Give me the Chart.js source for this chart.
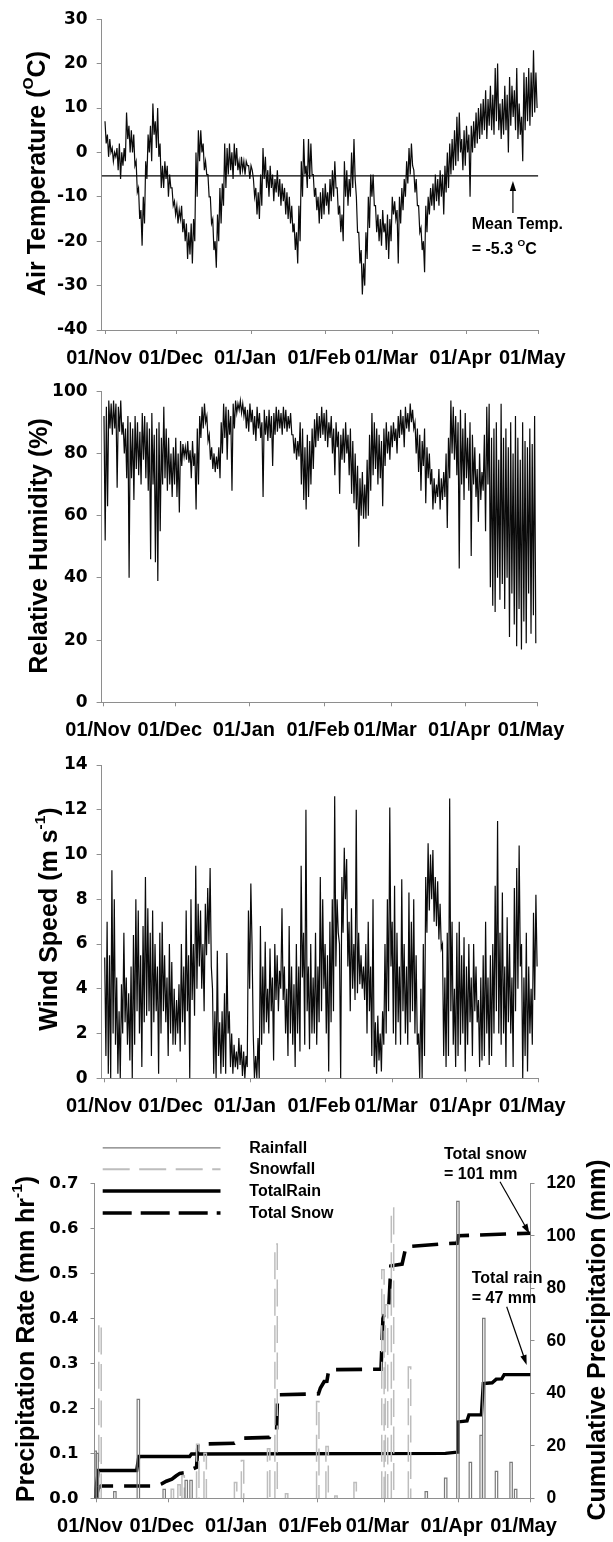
<!DOCTYPE html>
<html><head><meta charset="utf-8">
<script src="https://cdn.jsdelivr.net/npm/chart.js@4/dist/chart.umd.min.js"></script>
<style>
html,body{margin:0;padding:0;background:#fff;}
#wrap{position:relative;width:613px;height:1542px;overflow:hidden;}
canvas{position:absolute;left:0;}
</style></head><body>
<div id="wrap">
<canvas id="c1" width="613" height="372" style="top:0px"></canvas>
<canvas id="c2" width="613" height="370" style="top:372px"></canvas>
<canvas id="c3" width="613" height="378" style="top:742px"></canvas>
<canvas id="c4" width="613" height="422" style="top:1120px"></canvas>
</div>
<script>
// ---------------- DATA ----------------
const MONTH_LABELS = ['01/Nov','01/Dec','01/Jan','01/Feb','01/Mar','01/Apr','01/May'];
const MONTH_DAYS = [0, 30, 61, 92, 120, 151, 181]; // days since 01/Nov

// Air temperature (°C), two readings per day (12 h apart), from 01/Nov
const TEMP = [
7,2, 4,-1, 3,0, 1,-2, 0,-1, 1,-4, 2,-6, 0,-3, 1,-2, 9,3,
6,0, 5,0, 4,-3, -2,-9, -8,-15, -13,-21, -10,-16, -2,-6, 4,0, 6,-2,
11,4, 7,1, 10,-1, 2,-8, -3,-8, -2,-6, -3,-10, -5,-8, -8,-12, -11,-14,
-12,-16, -13,-15, -12,-18, -15,-20, -16,-24, -18,-23, -16,-25, -15,-20, 0,-10, 5,-2,
5,0, 2,-4, -2,-5, -5,-10, -10,-16, -15,-22, -20,-26, -14,-20, -8,-16, -7,-12,
2,-8, 1,-5, 2,-4, 0,-6, 2,-3, 1,-4, -2,-5, -1,-4, -2,-5, -2,-3,
-3,-6, -3,-4, -6,-10, -8,-14, -9,-15, -5,-12, 1,-6, -1,-8, -4,-10, -3,-8,
-5,-11, -6,-9, -4,-10, -6,-12, -7,-11, -8,-14, -9,-15, -10,-16, -12,-18, -16,-22,
-18,-25, -12,-20, -2,-10, 3,-5, -3,-8, 3,-6, 2,-5, -5,-10, -8,-13, -10,-16,
-9,-15, -8,-14, -7,-12, -9,-14, -6,-11, -4,-10, -2,-8, -8,-14, -12,-18, -14,-20,
-2,-10, -4,-12, -6,-10, 0,-8, 3,-6, -10,-18, -18,-25, -22,-32, -25,-30, -18,-24,
-10,-17, -5,-10, -5,-12, -12,-18, -14,-20, -15,-21, -13,-18, -16,-22, -14,-24, -15,-20,
-10,-14, -11,-15, -13,-25, -10,-16, -8,-13, -6,-10, -2,-7, 1,-5, 2,-3, -4,-9,
-6,-12, -12,-18, -17,-22, -20,-27, -12,-18, -10,-14, -8,-12, -7,-13, -5,-11, -6,-12,
-4,-10, -5,-14, -3,-9, 0,-8, 2,-5, 3,-4, 5,-3, 8,-2, 9,0, 3,-4,
5,-3, 6,0, 4,-10, 6,0, 7,1, 9,2, 10,3, 11,4, 12,5, 14,3,
12,6, 15,5, 13,4, 19,7, 20,5, 11,3, 12,4, 15,5, 13,0, 17,6,
15,8, 14,5, 19,3, 11,4, 8,-2, 18,5, 17,7, 19,6, 18,8, 23,9,
18,10
];
const MEAN_TEMP = -5.3;

// Relative humidity (%), two readings per day
const RH = [
92,52, 95,63, 97,88, 96,86, 97,88, 96,69, 95,87, 97,86, 90,80, 88,72,
92,40, 90,72, 88,65, 92,75, 90,73, 87,70, 93,78, 92,72, 90,68, 88,46,
93,70, 86,45, 88,39, 90,55, 85,70, 95,72, 88,68, 85,70, 80,66, 82,70,
85,66, 80,61, 84,76, 83,79, 82,78, 84,77, 81,72, 84,76, 80,62, 88,70,
92,85, 95,88, 96,90, 92,84, 86,78, 82,75, 80,74, 79,75, 82,72, 90,80,
96,85, 95,78, 94,86, 92,68, 96,88, 97,93, 96,94, 97,93, 96,92, 95,88,
94,87, 96,90, 94,86, 92,84, 95,88, 93,85, 90,66, 94,86, 92,84, 94,85,
92,76, 93,86, 95,87, 94,88, 93,86, 95,88, 94,87, 92,88, 93,86, 86,80,
85,78, 84,79, 90,70, 88,65, 82,62, 86,66, 84,70, 88,75, 91,82, 93,84,
92,85, 95,86, 93,84, 94,82, 90,85, 92,80, 88,73, 90,82, 87,67, 86,78,
88,77, 90,80, 86,73, 88,67, 84,64, 80,62, 76,50, 72,60, 74,59, 70,59,
78,60, 86,68, 93,73, 90,75, 88,70, 86,72, 84,63, 88,76, 90,80, 87,78,
89,82, 90,84, 88,80, 92,85, 94,86, 92,82, 95,88, 93,87, 96,90, 94,88,
90,80, 88,74, 86,68, 84,76, 88,64, 82,72, 80,70, 75,62, 72,64, 70,66,
75,62, 72,65, 74,66, 80,56, 85,72, 97,80, 95,78, 92,73, 90,43, 94,70,
88,65, 93,72, 85,68, 90,47, 86,70, 82,66, 75,58, 80,65, 74,68, 86,55,
95,70, 96,37, 85,31, 88,29, 90,40, 78,33, 96,38, 85,30, 88,40, 82,21,
90,35, 80,25, 92,18, 85,30, 78,17, 90,26, 84,19, 82,35, 88,22, 83,28,
92,19
];

// Wind speed (m s-1), two readings per day
const WIND = [
5.4,1.0, 7.0,0.2, 5.5,0.0, 9.3,2.0, 8.0,1.5, 4.5,0.2, 3.0,0.0, 4.2,2.0, 6.5,2.5, 4.5,1.5,
3.8,0.8, 5.0,0.0, 6.4,1.5, 8.0,3.0, 7.5,2.0, 5.5,0.5, 6.8,2.5, 9.0,2.8, 7.6,3.0, 6.5,1.0,
7.5,2.5, 6.0,3.0, 5.0,0.2, 6.5,2.0, 7.0,3.0, 5.5,2.5, 4.5,1.0, 6.0,2.0, 5.2,1.5, 4.0,1.5,
3.5,2.0, 4.2,1.2, 6.0,2.5, 5.0,1.5, 7.5,3.0, 5.5,0.0, 8.0,3.5, 6.0,2.8, 9.5,4.0, 7.8,5.0,
7.5,4.0, 6.0,3.0, 7.8,5.5, 8.5,6.0, 9.4,5.0, 4.0,0.2, 3.0,0.0, 5.7,1.0, 2.5,0.2, 3.0,0.5,
3.8,0.2, 5.6,2.0, 3.0,0.5, 2.0,0.2, 1.5,0.5, 1.2,0.4, 1.8,0.6, 1.5,0.1, 1.2,0.0, 1.0,0.5,
7.5,4.0, 8.7,6.0, 2.0,0.0, 1.0,0.0, 1.8,0.0, 6.8,1.5, 5.0,2.0, 6.1,2.5, 4.0,2.0, 5.8,3.0,
4.5,0.8, 6.0,3.5, 5.5,3.0, 4.8,4.0, 7.6,3.5, 5.0,2.0, 4.0,1.0, 6.8,2.0, 5.0,1.5, 4.2,0.5,
6.0,2.0, 5.0,1.2, 9.5,4.5, 6.5,1.5, 12.0,3.0, 5.0,1.3, 6.0,2.0, 4.5,2.0, 6.5,1.5, 5.0,2.5,
9.0,3.0, 8.0,4.0, 6.0,2.0, 5.5,0.3, 7.0,2.5, 8.0,3.0, 12.6,5.0, 8.0,6.5, 6.0,0.0, 9.0,6.5,
10.3,8.0, 9.8,5.0, 7.0,3.0, 7.6,4.0, 6.0,3.5, 12.0,3.8, 6.5,4.2, 5.5,4.0, 5.0,3.5, 6.0,2.0,
7.0,3.0, 5.0,1.0, 8.0,0.5, 2.5,0.2, 2.8,0.8, 2.0,0.3, 3.0,1.5, 6.0,2.0, 8.0,3.0, 12.1,5.0,
7.0,2.0, 8.6,1.5, 6.5,2.5, 5.0,1.5, 8.9,3.0, 6.0,2.0, 5.0,1.5, 8.3,2.5, 7.0,3.0, 8.0,2.0,
5.5,1.5, 2.0,0.0, 4.0,0.0, 6.0,1.0, 9.0,6.5, 10.5,7.5, 10.0,8.0, 10.2,7.0, 9.0,6.8, 8.8,6.2,
7.8,5.8, 6.0,1.0, 4.5,0.5, 6.5,1.0, 12.5,3.0, 7.0,1.5, 4.0,0.5, 6.5,1.0, 7.0,1.5, 5.5,2.0,
6.3,0.3, 5.0,1.5, 6.0,2.5, 4.5,1.0, 6.0,3.0, 5.0,2.5, 3.5,0.5, 4.5,0.8, 5.5,1.0, 7.0,2.0,
4.5,0.6, 5.5,1.0, 6.0,2.0, 8.6,3.0, 11.5,2.0, 6.5,1.5, 8.3,2.0, 5.0,0.5, 7.2,2.5, 6.0,2.0,
4.5,0.5, 8.5,3.0, 9.4,4.0, 10.4,5.0, 6.0,0.0, 4.5,1.0, 6.5,0.3, 5.0,2.0, 4.0,1.5, 7.4,3.5,
8.2,5.0
];

// Precipitation events: start day (since 01/Nov) and rate (mm hr-1), each lasting one day
const RAIN_DAY  = [-1.2, -0.4, 7.0, 16.8, 27.6, 36.8, 38.8, 137.0, 145.1, 150.2, 155.4, 159.9, 161.0, 166.3, 172.4, 174.3];
const RAIN_RATE = [0.105, 0.10, 0.015, 0.22, 0.02, 0.04, 0.04, 0.015, 0.045, 0.66, 0.08, 0.14, 0.40, 0.06, 0.08, 0.02];
const SNOW_DAY  = [0.8, 31.0, 33.8, 35.5, 41.6, 44.7, 57.4, 60.3, 71.2, 74.3, 78.7, 91.7, 95.6, 99.3, 107.3, 118.9, 120.4, 122.9, 130.0];
const SNOW_RATE = [0.39, 0.02, 0.03, 0.05, 0.12, 0.10, 0.035, 0.084, 0.11, 0.565, 0.01, 0.215, 0.115, 0.005, 0.035, 0.508, 0.43, 0.645, 0.292];
const EVENT_DAYS = 1;

// Cumulative precipitation (mm)
const TOTAL_RAIN_DAY = [-1, 0.65, 16.6, 17.5, 38.7, 39.5, 145.5, 150.4, 150.7, 154.5, 155.3, 160.5, 161.3, 165, 166.7, 169, 170, 181];
const TOTAL_RAIN_MM  = [0, 10.6, 10.6, 15.9, 15.9, 16.9, 17.1, 17.6, 29.1, 29.5, 31.8, 31.8, 43.7, 44.0, 45.4, 45.5, 47.1, 47.1];
const TOTAL_SNOW_DAY = [-0.5, 0.65, 1.6, 24.8, 27, 29, 31.3, 33, 34.6, 37, 38, 41.6, 42.2, 57.4, 60.6, 72, 73.7, 75, 75.4, 92.5, 93.3, 94.9, 96, 96.8, 118.6, 119.4, 120.2, 121.9, 122.7, 124.3, 127.4, 129, 145.5, 150.4, 151, 181];
const TOTAL_SNOW_MM  = [0, 3.8, 4.7, 4.7, 5.5, 6.5, 7.3, 8.5, 9.5, 9.8, 10.5, 11.8, 20.6, 21, 22.9, 23.2, 25.8, 25.9, 39.4, 39.8, 42, 44.5, 44.6, 49, 49.2, 68.5, 71, 73.8, 88.5, 88.8, 89.2, 95.8, 97, 97.2, 100, 101];
const TOTAL_RAIN_LABEL = 47, TOTAL_SNOW_LABEL = 101;

// ---------------- HELPERS ----------------
const FA = '"Liberation Sans", Arial, Helvetica, sans-serif';
const FD = '"DejaVu Sans", "Liberation Sans", sans-serif';
const GRAY = '#8e8e8e';

const halfDaily = arr => arr.map((v, i) => ({x: i * 0.5, y: v}));
const xyPairs = (xs, ys) => xs.map((x, i) => ({x, y: ys[i]}));
function spikes(days, rates) {
  const pts = [];
  days.forEach((d, i) => {
    pts.push({x: d, y: 0}, {x: d, y: rates[i]}, {x: d + EVENT_DAYS, y: rates[i]}, {x: d + EVENT_DAYS, y: 0}, {x: d + EVENT_DAYS + 0.01, y: null});
  });
  return pts;
}

function xAxis(min, max, height, labelOffset) {
  return {
    type: 'linear', position: 'bottom', min, max,
    afterBuildTicks: s => { s.ticks = MONTH_DAYS.map(v => ({value: v})); },
    afterFit: s => { s.height = height; },
    ticks: {
      autoSkip: false, maxRotation: 0, minRotation: 0, padding: 12, labelOffset,
      color: '#000', font: {family: FA, size: 20, weight: 'bold'},
      callback: v => { const k = MONTH_DAYS.indexOf(v); return k >= 0 ? MONTH_LABELS[k] : ''; }
    },
    grid: {drawOnChartArea: false, drawTicks: true, tickLength: 4, color: GRAY, lineWidth: 1},
    border: {display: true, color: GRAY, width: 1}
  };
}
function yAxis(min, max, step, width, opts = {}) {
  return Object.assign({
    type: 'linear', position: 'left', min, max,
    afterFit: s => { s.width = width; },
    ticks: {stepSize: step, padding: opts.pad || 9, color: '#000',
      font: {family: opts.family || FD, size: opts.size || 17, weight: 'bold'},
      callback: opts.cb || (v => String(v))},
    grid: {drawOnChartArea: false, drawTicks: true, tickLength: opts.tick || 5, color: GRAY, lineWidth: 1},
    border: {display: true, color: GRAY, width: 1}
  }, opts.extra || {});
}

function richWidth(ctx, parts, size) {
  let w = 0;
  for (const p of parts) { ctx.font = `bold ${p.sup ? size * 0.62 : size}px ${FA}`; w += ctx.measureText(p.t).width; }
  return w;
}
function drawRich(ctx, parts, x, y, size, align) {
  let cx = align === 'center' ? x - richWidth(ctx, parts, size) / 2 : x;
  ctx.textBaseline = 'middle'; ctx.textAlign = 'left'; ctx.fillStyle = '#000';
  for (const p of parts) {
    const s = p.sup ? size * 0.62 : size;
    ctx.font = `bold ${s}px ${FA}`;
    ctx.fillText(p.t, cx, p.sup ? y - size * 0.36 : y);
    cx += ctx.measureText(p.t).width;
  }
}
function vTitle(ctx, parts, cx, cy, size) {
  ctx.save(); ctx.translate(cx, cy); ctx.rotate(-Math.PI / 2);
  drawRich(ctx, parts, 0, 0, size, 'center'); ctx.restore();
}
function arrow(ctx, x1, y1, x2, y2) {
  ctx.save(); ctx.strokeStyle = '#000'; ctx.fillStyle = '#000'; ctx.lineWidth = 1.2;
  const a = Math.atan2(y2 - y1, x2 - x1), L = 10, W = 3.2;
  ctx.beginPath(); ctx.moveTo(x1, y1); ctx.lineTo(x2 - L * 0.6 * Math.cos(a), y2 - L * 0.6 * Math.sin(a)); ctx.stroke();
  ctx.beginPath(); ctx.moveTo(x2, y2);
  ctx.lineTo(x2 - L * Math.cos(a) + W * Math.sin(a), y2 - L * Math.sin(a) - W * Math.cos(a));
  ctx.lineTo(x2 - L * Math.cos(a) - W * Math.sin(a), y2 - L * Math.sin(a) + W * Math.cos(a));
  ctx.closePath(); ctx.fill(); ctx.restore();
}

const base = {responsive: false, animation: false, events: [], normalized: true,
  plugins: {legend: {display: false}, tooltip: {enabled: false}},
  elements: {point: {radius: 0}, line: {tension: 0}}};
const TITLE = 25;
const TRACE = '#0a0a0a', TRACE_W = 1.2;

// ---------------- PANEL 1: Air temperature ----------------
new Chart(document.getElementById('c1'), {
  type: 'line',
  data: {datasets: [
    {data: halfDaily(TEMP), borderColor: TRACE, borderWidth: TRACE_W},
    {data: [{x: -1.38, y: MEAN_TEMP}, {x: 181, y: MEAN_TEMP}], borderColor: '#000', borderWidth: 1.3}
  ]},
  options: Object.assign({}, base, {
    layout: {autoPadding: false, padding: {top: 15.7, right: 74.7, left: 0, bottom: 0}},
    scales: {x: xAxis(-1.38, 181, 42, -6), y: yAxis(-40, 30, 10, 101.7)}
  }),
  plugins: [{id: 'deco1', afterDraw(c) {
    const ctx = c.ctx;
    vTitle(ctx, [{t: 'Air Temperature ('}, {t: 'O', sup: true}, {t: 'C)'}], 38, 173.5, TITLE);
    const ax = c.scales.x.getPixelForValue(170.4), ay = c.scales.y.getPixelForValue(MEAN_TEMP);
    arrow(ctx, ax, ay + 37, ax, ay + 5);
    drawRich(ctx, [{t: 'Mean Temp.'}], 471.7, 225, 16, 'left');
    drawRich(ctx, [{t: '= ' + MEAN_TEMP.toFixed(1) + ' '}, {t: 'O', sup: true}, {t: 'C'}], 471.7, 249.3, 16, 'left');
  }}]
});

// ---------------- PANEL 2: Relative humidity ----------------
new Chart(document.getElementById('c2'), {
  type: 'line',
  data: {datasets: [{data: halfDaily(RH), borderColor: TRACE, borderWidth: TRACE_W}]},
  options: Object.assign({}, base, {
    layout: {autoPadding: false, padding: {top: 17.3, right: 76, left: 0, bottom: 0}},
    scales: {x: xAxis(-1.0, 181, 39.7, -6), y: yAxis(0, 100, 20, 101.6)}
  }),
  plugins: [{id: 'deco2', afterDraw(c) {
    vTitle(c.ctx, [{t: 'Relative Humidity (%)'}], 40, 546 - 372, TITLE);
  }}]
});

// ---------------- PANEL 3: Wind speed ----------------
new Chart(document.getElementById('c3'), {
  type: 'line',
  data: {datasets: [{data: halfDaily(WIND), borderColor: TRACE, borderWidth: TRACE_W}]},
  options: Object.assign({}, base, {
    layout: {autoPadding: false, padding: {top: 23, right: 74.7, left: 0, bottom: 0}},
    scales: {x: xAxis(-1.3, 181, 41.7, -6), y: yAxis(0, 14, 2, 101.6)}
  }),
  plugins: [{id: 'deco3', afterDraw(c) {
    vTitle(c.ctx, [{t: 'Wind Speed (m s'}, {t: '-1', sup: true}, {t: ')'}], 50, 919 - 742, TITLE);
  }}]
});

// ---------------- PANEL 4: Precipitation ----------------
const LEG = [
  {label: 'Rainfall', color: '#7a7a7a', width: 1.2, dash: []},
  {label: 'Snowfall', color: '#bdbdbd', width: 2, dash: [27, 9.5]},
  {label: 'TotalRain', color: '#000', width: 3.4, dash: []},
  {label: 'Total Snow', color: '#000', width: 3.6, dash: [29, 9]}
];
new Chart(document.getElementById('c4'), {
  type: 'line',
  data: {datasets: [
    {label: LEG[0].label, data: spikes(RAIN_DAY, RAIN_RATE), borderColor: LEG[0].color, borderWidth: 1.2, yAxisID: 'y', spanGaps: false},
    {label: LEG[1].label, data: spikes(SNOW_DAY, SNOW_RATE), borderColor: LEG[1].color, borderWidth: 1.5, borderDash: LEG[1].dash, yAxisID: 'y', spanGaps: false},
    {label: LEG[2].label, data: xyPairs(TOTAL_RAIN_DAY, TOTAL_RAIN_MM), borderColor: '#000', borderWidth: 3.4, yAxisID: 'y2'},
    {label: LEG[3].label, data: xyPairs(TOTAL_SNOW_DAY, TOTAL_SNOW_MM), borderColor: '#000', borderWidth: 3.6, borderDash: [26, 11], yAxisID: 'y2'}
  ]},
  options: Object.assign({}, base, {
    layout: {autoPadding: false, padding: {top: 63.3, right: 0, left: 0, bottom: 0}},
    scales: {
      x: xAxis(-1.0, 181, 43.7, -7),
      y: yAxis(0, 0.7, 0.1, 94.5, {pad: 12, tick: 4, size: 16.5, cb: v => Number(v).toFixed(1)}),
      y2: yAxis(0, 120, 20, 82.5, {pad: 12, tick: 4, family: FA, size: 17.5, extra: {position: 'right'}})
    }
  }),
  plugins: [{id: 'deco4', afterDraw(c) {
    const ctx = c.ctx;
    vTitle(ctx, [{t: 'Precipitation Rate (mm hr'}, {t: '-1', sup: true}, {t: ')'}], 27, 1339 - 1120, TITLE);
    vTitle(ctx, [{t: 'Cumulative Precipitation (mm)'}], 598, 1340 - 1120, TITLE);
    // legend
    const ys = [27.8, 49.2, 71, 93];
    LEG.forEach((l, i) => {
      ctx.save(); ctx.strokeStyle = l.color; ctx.lineWidth = l.width; ctx.setLineDash(l.dash);
      ctx.beginPath(); ctx.moveTo(102.7, ys[i]); ctx.lineTo(220.5, ys[i]); ctx.stroke(); ctx.restore();
      drawRich(ctx, [{t: l.label}], 249.3, ys[i] + 0.8, 16, 'left');
    });
    // annotations
    drawRich(ctx, [{t: 'Total snow'}], 444, 35, 16, 'left');
    drawRich(ctx, [{t: '= ' + TOTAL_SNOW_LABEL + ' mm'}], 444, 55, 16, 'left');
    drawRich(ctx, [{t: 'Total rain'}], 471.7, 158.3, 16, 'left');
    drawRich(ctx, [{t: '= ' + TOTAL_RAIN_LABEL + ' mm'}], 471.7, 178.3, 16, 'left');
    const xs = c.scales.x, y2 = c.scales.y2;
    arrow(ctx, 500, 61.7, xs.getPixelForValue(181) - 1, y2.getPixelForValue(100) - 2);
    arrow(ctx, 506.7, 186.7, xs.getPixelForValue(179.4), y2.getPixelForValue(TOTAL_RAIN_LABEL) - 10);
  }}]
});
</script>
</body></html>
